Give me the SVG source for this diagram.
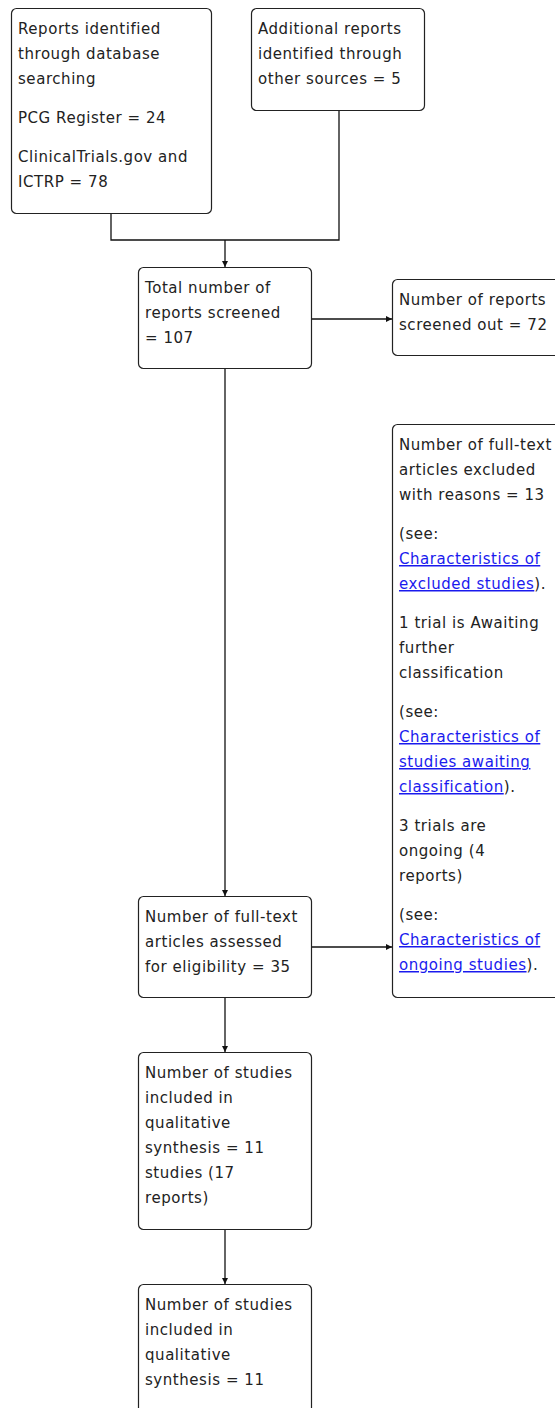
<svg xmlns="http://www.w3.org/2000/svg" width="555" height="1408" viewBox="0 0 555 1408">
<style>
.box{fill:#fff;stroke:#222;stroke-width:1.2}
.t{font-family:"DejaVu Sans",sans-serif;font-size:15px;fill:#222;letter-spacing:0.55px}
.lk{fill:#1a1aee;text-decoration:underline}
.c{fill:none;stroke:#111;stroke-width:1.3}
</style>
<defs>
<marker id="ah" viewBox="0 0 10 10" refX="10" refY="5" markerWidth="7" markerHeight="6" markerUnits="userSpaceOnUse" orient="auto">
<path d="M0,0 L10,5 L0,10 z" fill="#111"/>
</marker>
</defs>
<g id="connectors">
<path class="c" d="M111,213 V240 H339 V110"/>
<path class="c" d="M225,240 V267" marker-end="url(#ah)"/>
<path class="c" d="M311,319 H392" marker-end="url(#ah)"/>
<path class="c" d="M225,368 V896" marker-end="url(#ah)"/>
<path class="c" d="M311,947 H392" marker-end="url(#ah)"/>
<path class="c" d="M225,997 V1052" marker-end="url(#ah)"/>
<path class="c" d="M225,1229 V1284" marker-end="url(#ah)"/>
</g>
<g id="n1">
<rect class="box" x="11.5" y="8.5" width="200" height="205" rx="5"/>
<text class="t" x="18" y="34">Reports identified</text>
<text class="t" x="18" y="59">through database</text>
<text class="t" x="18" y="84">searching</text>
<text class="t" x="18" y="123">PCG Register = 24</text>
<text class="t" x="18" y="162">ClinicalTrials.gov and</text>
<text class="t" x="18" y="187">ICTRP = 78</text>
</g>
<g id="n2">
<rect class="box" x="251.5" y="8.5" width="173" height="102" rx="5"/>
<text class="t" x="258" y="34">Additional reports</text>
<text class="t" x="258" y="59">identified through</text>
<text class="t" x="258" y="84">other sources = 5</text>
</g>
<g id="n3">
<rect class="box" x="138.5" y="267.5" width="173" height="101" rx="5"/>
<text class="t" x="145" y="293">Total number of</text>
<text class="t" x="145" y="318">reports screened</text>
<text class="t" x="145" y="343">= 107</text>
</g>
<g id="n4">
<rect class="box" x="392.5" y="279.5" width="175" height="76" rx="5"/>
<text class="t" x="399" y="305">Number of reports</text>
<text class="t" x="399" y="330">screened out = 72</text>
</g>
<g id="n5">
<rect class="box" x="392.5" y="424.5" width="175" height="573" rx="5"/>
<text class="t" x="399" y="450">Number of full-text</text>
<text class="t" x="399" y="475">articles excluded</text>
<text class="t" x="399" y="500">with reasons = 13</text>
<text class="t" x="399" y="539">(see:</text>
<text class="t" x="399" y="564"><tspan class="lk">Characteristics of</tspan></text>
<text class="t" x="399" y="589"><tspan class="lk">excluded studies</tspan>).</text>
<text class="t" x="399" y="628">1 trial is Awaiting</text>
<text class="t" x="399" y="653">further</text>
<text class="t" x="399" y="678">classification</text>
<text class="t" x="399" y="717">(see:</text>
<text class="t" x="399" y="742"><tspan class="lk">Characteristics of</tspan></text>
<text class="t" x="399" y="767"><tspan class="lk">studies awaiting</tspan></text>
<text class="t" x="399" y="792"><tspan class="lk">classification</tspan>).</text>
<text class="t" x="399" y="831">3 trials are</text>
<text class="t" x="399" y="856">ongoing (4</text>
<text class="t" x="399" y="881">reports)</text>
<text class="t" x="399" y="920">(see:</text>
<text class="t" x="399" y="945"><tspan class="lk">Characteristics of</tspan></text>
<text class="t" x="399" y="970"><tspan class="lk">ongoing studies</tspan>).</text>
</g>
<g id="n6">
<rect class="box" x="138.5" y="896.5" width="173" height="101" rx="5"/>
<text class="t" x="145" y="922">Number of full-text</text>
<text class="t" x="145" y="947">articles assessed</text>
<text class="t" x="145" y="972">for eligibility = 35</text>
</g>
<g id="n7">
<rect class="box" x="138.5" y="1052.5" width="173" height="177" rx="5"/>
<text class="t" x="145" y="1078">Number of studies</text>
<text class="t" x="145" y="1103">included in</text>
<text class="t" x="145" y="1128">qualitative</text>
<text class="t" x="145" y="1153">synthesis = 11</text>
<text class="t" x="145" y="1178">studies (17</text>
<text class="t" x="145" y="1203">reports)</text>
</g>
<g id="n8">
<rect class="box" x="138.5" y="1284.5" width="173" height="140" rx="5"/>
<text class="t" x="145" y="1310">Number of studies</text>
<text class="t" x="145" y="1335">included in</text>
<text class="t" x="145" y="1360">qualitative</text>
<text class="t" x="145" y="1385">synthesis = 11</text>
</g>
</svg>
